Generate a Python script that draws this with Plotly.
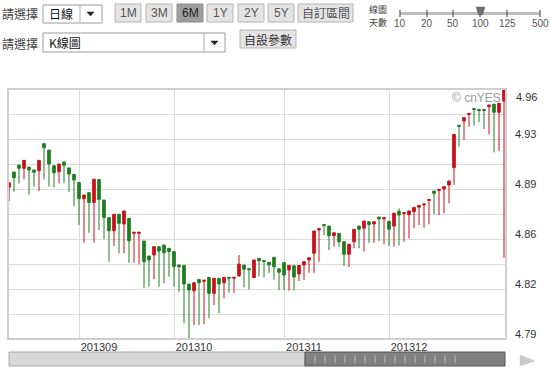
import plotly.graph_objects as go

# ---------------- data ----------------
day_index = list(range(100))

opens = [4.8924, 4.9029, 4.9077, 4.9054, 4.9063, 4.9043, 4.9038, 4.9224, 4.9180, 4.9072,
         4.9031, 4.9098, 4.9057, 4.9013, 4.8957, 4.8845, 4.8887, 4.8819, 4.8977, 4.8836,
         4.8715, 4.8625, 4.8738, 4.8671, 4.8710, 4.8607, 4.8607, 4.8554, 4.8451, 4.8458,
         4.8515, 4.8527, 4.8504, 4.8481, 4.8389, 4.8386, 4.8258, 4.8212, 4.8289, 4.8277,
         4.8304, 4.8194, 4.8298, 4.8267, 4.8304, 4.8298, 4.8313, 4.8389, 4.8364, 4.8302,
         4.8435, 4.8420, 4.8408, 4.8442, 4.8363, 4.8406, 4.8355, 4.8384, 4.8327, 4.8389,
         4.8424, 4.8470, 4.8630, 4.8668, 4.8657, 4.8591, 4.8607, 4.8549, 4.8463, 4.8549,
         4.8657, 4.8642, 4.8687, 4.8671, 4.8719, 4.8707, 4.8690, 4.8657, 4.8759, 4.8743,
         4.8735, 4.8756, 4.8787, 4.8802, 4.8833, 4.8898, 4.8902, 4.8912, 4.8940, 4.9059,
         4.9350, 4.9380, 4.9425, 4.9466, 4.9459, 4.9459, 4.9478, 4.9495, 4.9440, 4.9517]

highs = [4.8955, 4.9029, 4.9077, 4.9109, 4.9063, 4.9043, 4.9109, 4.9224, 4.9180, 4.9072,
         4.9084, 4.9098, 4.9057, 4.9013, 4.8957, 4.8871, 4.8887, 4.8979, 4.8977, 4.8836,
         4.8715, 4.8738, 4.8738, 4.8761, 4.8710, 4.8614, 4.8614, 4.8554, 4.8451, 4.8515,
         4.8515, 4.8527, 4.8504, 4.8481, 4.8389, 4.8386, 4.8258, 4.8267, 4.8289, 4.8284,
         4.8304, 4.8298, 4.8298, 4.8304, 4.8304, 4.8304, 4.8458, 4.8389, 4.8364, 4.8424,
         4.8435, 4.8420, 4.8408, 4.8442, 4.8363, 4.8406, 4.8386, 4.8384, 4.8386, 4.8412,
         4.8439, 4.8623, 4.8639, 4.8668, 4.8657, 4.8611, 4.8607, 4.8549, 4.8532, 4.8635,
         4.8657, 4.8692, 4.8687, 4.8687, 4.8719, 4.8714, 4.8690, 4.8745, 4.8779, 4.8750,
         4.8761, 4.8785, 4.8799, 4.8809, 4.8840, 4.8898, 4.8909, 4.8928, 4.8967, 4.9288,
         4.9350, 4.9403, 4.9431, 4.9466, 4.9459, 4.9459, 4.9490, 4.9495, 4.9502, 4.9603]

lows = [4.8829, 4.8893, 4.8951, 4.8979, 4.8871, 4.8928, 4.8898, 4.8979, 4.8928, 4.8924,
        4.8951, 4.8951, 4.8893, 4.8795, 4.8664, 4.8543, 4.8611, 4.8543, 4.8630, 4.8566,
        4.8412, 4.8520, 4.8470, 4.8470, 4.8405, 4.8405, 4.8394, 4.8229, 4.8240, 4.8291,
        4.8240, 4.8263, 4.8309, 4.8240, 4.8203, 4.7988, 4.7887, 4.7976, 4.7976, 4.7983,
        4.8022, 4.8114, 4.8057, 4.8160, 4.8199, 4.8196, 4.8313, 4.8236, 4.8221, 4.8302,
        4.8310, 4.8304, 4.8334, 4.8288, 4.8217, 4.8217, 4.8212, 4.8214, 4.8279, 4.8286,
        4.8336, 4.8336, 4.8412, 4.8596, 4.8492, 4.8515, 4.8515, 4.8382, 4.8375, 4.8504,
        4.8504, 4.8481, 4.8541, 4.8541, 4.8554, 4.8534, 4.8520, 4.8515, 4.8523, 4.8549,
        4.8573, 4.8642, 4.8664, 4.8646, 4.8669, 4.8738, 4.8733, 4.8745, 4.8814, 4.8940,
        4.9203, 4.9249, 4.9341, 4.9348, 4.9371, 4.9325, 4.9288, 4.9164, 4.9173, 4.8437]

closes = [4.8955, 4.8990, 4.9054, 4.9109, 4.9043, 4.9027, 4.9109, 4.9196, 4.9084, 4.9024,
          4.9084, 4.9075, 4.9015, 4.8974, 4.8847, 4.8871, 4.8819, 4.8979, 4.8841, 4.8716,
          4.8625, 4.8738, 4.8676, 4.8761, 4.8556, 4.8614, 4.8614, 4.8412, 4.8424, 4.8515,
          4.8485, 4.8474, 4.8481, 4.8379, 4.8377, 4.8258, 4.8217, 4.8267, 4.8267, 4.8284,
          4.8194, 4.8298, 4.8258, 4.8304, 4.8298, 4.8304, 4.8395, 4.8360, 4.8357, 4.8424,
          4.8418, 4.8413, 4.8389, 4.8377, 4.8339, 4.8320, 4.8386, 4.8307, 4.8386, 4.8412,
          4.8439, 4.8623, 4.8639, 4.8661, 4.8591, 4.8611, 4.8549, 4.8463, 4.8532, 4.8635,
          4.8635, 4.8692, 4.8668, 4.8687, 4.8706, 4.8714, 4.8635, 4.8745, 4.8733, 4.8750,
          4.8761, 4.8785, 4.8799, 4.8809, 4.8840, 4.8882, 4.8909, 4.8928, 4.8967, 4.9288,
          4.9343, 4.9403, 4.9431, 4.9459, 4.9452, 4.9452, 4.9490, 4.9440, 4.9502, 4.9603]

month_labels = ["201309", "201310", "201311", "201312"]
month_start_index = [14, 33, 55, 76]
y_tick_labels = ["4.79", "4.82", "4.86", "4.89", "4.93", "4.96"]
y_min, y_max = 4.788, 4.960

range_buttons = ["1M", "3M", "6M", "1Y", "2Y", "5Y", "自訂區間"]
day_options = ["10", "20", "50", "100", "125", "500"]

# ---------------- figure ----------------
W, H = 550, 370
L, R, T, B = 8, 506, 89, 339

RED = "#c8101a"
GREEN = "#1f7d1f"

fig = go.Figure(go.Candlestick(
    x=day_index, open=opens, high=highs, low=lows, close=closes,
    increasing=dict(line=dict(color=RED, width=1), fillcolor=RED),
    decreasing=dict(line=dict(color=GREEN, width=1), fillcolor=GREEN),
    whiskerwidth=0, hoverinfo="skip", showlegend=False,
))

n_grid = 10
grid_vals = [y_min + k * (y_max - y_min) / n_grid for k in range(n_grid + 1)]
grid_text = []
for k in range(n_grid + 1):
    if k % 2 == 0 and k < n_grid:
        grid_text.append(y_tick_labels[k // 2])
    else:
        grid_text.append("")


def px(x):
    return (x - L) / (R - L)


def py(y):
    return (B - y) / (B - T)


shapes = []
annotations = []


def rect(x0, y0, x1, y1, fill, line="#a0a0a0", lw=1):
    shapes.append(dict(type="rect", xref="paper", yref="paper",
                       x0=px(x0), x1=px(x1), y0=py(y1), y1=py(y0),
                       fillcolor=fill, line=dict(color=line, width=lw), layer="above"))


def seg(x0, y0, x1, y1, color, lw=1):
    shapes.append(dict(type="line", xref="paper", yref="paper",
                       x0=px(x0), x1=px(x1), y0=py(y0), y1=py(y1),
                       line=dict(color=color, width=lw), layer="above"))


def tri(points, color):
    path = "M " + " L ".join(f"{px(a)},{py(b)}" for a, b in points) + " Z"
    shapes.append(dict(type="path", xref="paper", yref="paper", path=path,
                       fillcolor=color, line=dict(color=color, width=0.5), layer="above"))


def text(x, y, s, size=12, color="#333333", anchor="left", family="Noto Sans CJK TC, Liberation Sans"):
    annotations.append(dict(xref="paper", yref="paper", x=px(x), y=py(y), text=s,
                            showarrow=False, xanchor=anchor, yanchor="middle",
                            font=dict(size=size, color=color, family=family)))


CJK = "Noto Sans CJK TC"
SANS = "Liberation Sans"

# row 1
text(0, 14, "請選擇", 12, "#444444", family=CJK)
rect(43, 5, 102, 23, "#ffffff", "#9a9a9a")
seg(80, 5, 80, 23, "#b0b0b0")
text(47, 14, "日線", 12, "#111111", family=CJK)
tri([(87, 12), (94, 12), (90.5, 16)], "#222222")

btn_x = [(115, 141), (146, 172), (177, 203), (207, 233), (238, 264), (268, 294), (298, 353)]
for (x0, x1), lab in zip(btn_x, range_buttons):
    pressed = lab == "6M"
    rect(x0, 4, x1, 22, "#9e9e9e" if pressed else "#e4e4e4", "#8a8a8a" if pressed else "#b4b4b4")
    text((x0 + x1) / 2, 13, lab, 12, "#222222" if pressed else "#555555", anchor="center",
         family=SANS if lab != "自訂區間" else CJK)

# days slider (label on two separate lines)
text(367, 9.5, "線圖", 9, "#444444", family=CJK)
text(367, 22.5, "天數", 9, "#444444", family=CJK)
slider_x = [400, 427, 453, 480, 507, 540]
seg(400, 13.5, 540, 13.5, "#bdbdbd", 3)
for sx, lab in zip(slider_x, day_options):
    seg(sx, 10, sx, 17, "#777777", 1.5)
    text(sx, 23, lab, 10, "#555555", anchor="center", family=SANS)
tri([(476, 7), (485, 7), (482.5, 15), (478.5, 15)], "#6e6e6e")

# row 2
text(0, 43, "請選擇", 12, "#444444", family=CJK)
rect(43, 33, 225, 52, "#ffffff", "#9a9a9a")
seg(204, 33, 204, 52, "#b0b0b0")
text(47, 42.5, "K線圖", 12, "#111111", family=CJK)
tri([(211, 41), (218, 41), (214.5, 45)], "#222222")
rect(240, 30, 296, 48, "#e4e4e4", "#b4b4b4")
text(268, 39, "自設參數", 12, "#333333", anchor="center", family=CJK)

# plot frame
rect(L, T, R, B, "rgba(0,0,0,0)", "#cfcfcf", 2)

# watermark
text(503, 98, "© cnYES", 12, "#9a9a9a", anchor="right", family=SANS)

# top y label (sits inside the frame edge)
text(514, 97, y_tick_labels[-1], 11, "#333333", family=SANS)

# bottom scrollbar
rect(9, 352, 305, 366, "#d8d8d8", "#a8a8a8")
rect(305, 352, 505, 366, "#808080", "#555555")
for tx in range(315, 460, 10):
    seg(tx, 355, tx, 363, "#b8b8b8", 1)
tri([(520, 355), (535, 361), (520, 366)], "#c8c8c8")

fig.update_layout(
    width=W, height=H, autosize=False,
    margin=dict(l=L, r=W - R, t=T, b=H - B, pad=0),
    paper_bgcolor="white", plot_bgcolor="white",
    boxgap=0.25,
    showlegend=False,
    shapes=shapes, annotations=annotations,
    xaxis=dict(range=[-0.2, 99.4], rangeslider=dict(visible=False),
               tickmode="array", tickvals=month_start_index, ticktext=month_labels,
               showgrid=True, gridcolor="#dadada", gridwidth=1, zeroline=False,
               showline=False, ticks="", ticklabelshift=20,
               tickfont=dict(family=SANS, size=11, color="#333333"), fixedrange=True),
    yaxis=dict(range=[y_min, y_max], side="right",
               tickmode="array", tickvals=grid_vals, ticktext=grid_text,
               showgrid=True, gridcolor="#dadada", gridwidth=1, zeroline=False,
               showline=False, ticks="", ticklabelstandoff=8, ticklabelshift=-5,
               tickfont=dict(family=SANS, size=11, color="#333333"), fixedrange=True),
    hovermode=False,
)

fig.write_html("out.html", config={"displayModeBar": False, "staticPlot": True},
               post_script="document.body.style.margin='0';document.body.style.overflow='hidden';")
